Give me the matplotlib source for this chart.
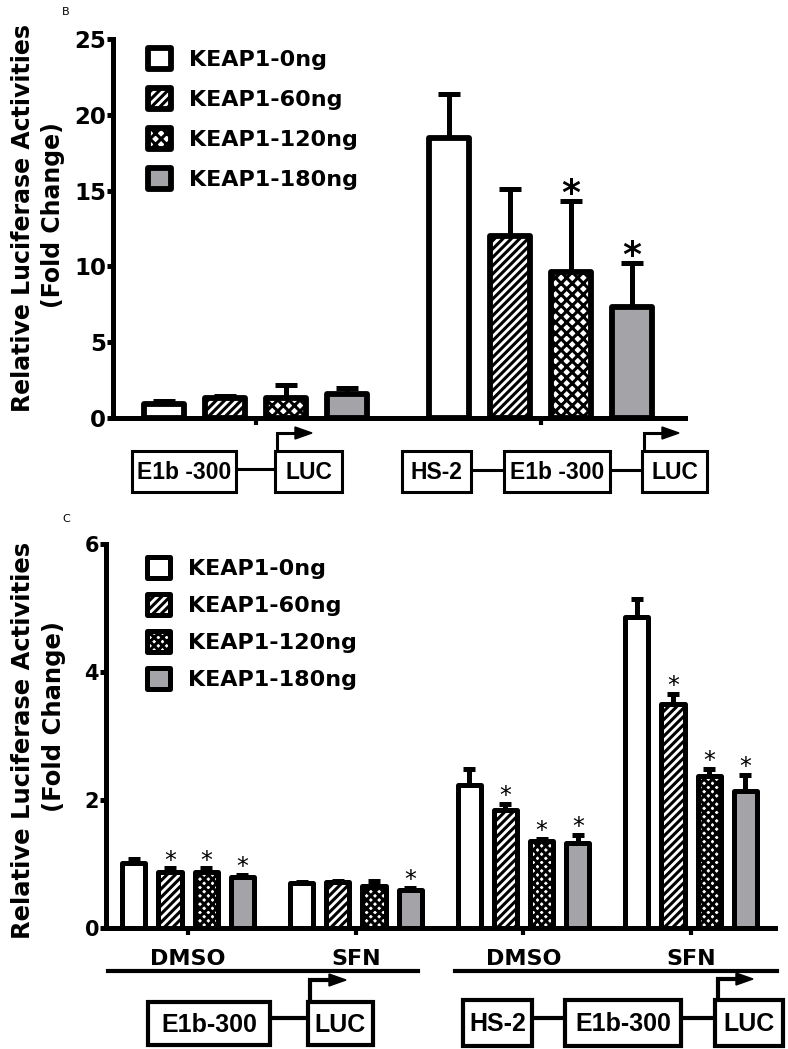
import matplotlib.pyplot as plt
import numpy as np
from matplotlib.patches import Rectangle, Polygon

plt.rcParams["font.family"] = "DejaVu Sans"
plt.rcParams["font.weight"] = "bold"
plt.rcParams["hatch.linewidth"] = 2.2

W, H = 788, 1049

keap1_labels = ["KEAP1-0ng", "KEAP1-60ng", "KEAP1-120ng", "KEAP1-180ng"]
bar_colors = ["white", "white", "white", "#a4a4a8"]

# panel B: E1b-300 reporter vs HS-2/E1b-300 reporter
b_0ng = [0.9, 18.5]
b_60ng = [1.3, 12.0]
b_120ng = [1.3, 9.6]
b_180ng = [1.6, 7.3]
b_err_0ng = [0.25, 2.9]
b_err_60ng = [0.15, 3.1]
b_err_120ng = [0.9, 4.7]
b_err_180ng = [0.35, 2.9]
b_star_120ng = [False, True]
b_star_180ng = [False, True]

# panel C: DMSO / SFN treatment, two reporters
c_groups = ["DMSO", "SFN", "DMSO", "SFN"]
c_0ng = [1.02, 0.70, 2.23, 4.86]
c_60ng = [0.87, 0.72, 1.84, 3.50]
c_120ng = [0.88, 0.66, 1.36, 2.37]
c_180ng = [0.80, 0.60, 1.33, 2.14]
c_err_0ng = [0.06, 0.02, 0.25, 0.28]
c_err_60ng = [0.06, 0.02, 0.10, 0.16]
c_err_120ng = [0.05, 0.07, 0.03, 0.12]
c_err_180ng = [0.03, 0.03, 0.13, 0.25]
c_star_60ng = [True, False, True, True]
c_star_120ng = [True, False, True, True]
c_star_180ng = [True, True, True, True]


def hatch_width(patch, lw):
    # hatch.linewidth is read when the patch is drawn
    orig = patch.draw

    def draw(renderer):
        with plt.rc_context({"hatch.linewidth": lw}):
            orig(renderer)
    patch.draw = draw


def draw_bars(ax, means, errs, stars, hatches, hatch_lws, pitch, width,
              edge_lw, err_lw, cap, star_fs, star_weight, star_gap):
    groups = np.arange(len(means[0]))
    for i in range(4):
        xs = groups + (i - 1.5) * pitch
        bars = ax.bar(xs, means[i], width, color=bar_colors[i],
                      edgecolor="black", linewidth=edge_lw,
                      hatch=hatches[i] or None,
                      label=keap1_labels[i], zorder=3)
        for p in bars:
            p.set_joinstyle("round")
            hatch_width(p, hatch_lws[i])
        ax.errorbar(xs, means[i], yerr=[np.zeros(len(xs)), errs[i]],
                    fmt="none", ecolor="black", elinewidth=err_lw,
                    capsize=cap, capthick=err_lw, zorder=2)
        tops = np.add(means[i], errs[i])
        for x, top, flag in zip(xs, tops, stars[i]):
            if flag:
                ax.annotate("*", (x, top), xytext=(0, star_gap),
                            textcoords="offset points", ha="center",
                            va="baseline", fontsize=star_fs,
                            fontweight=star_weight)


def style_axis(ax, lw):
    for s in ["top", "right"]:
        ax.spines[s].set_visible(False)
    for s in ["left", "bottom"]:
        ax.spines[s].set_linewidth(lw)
        ax.spines[s].set_capstyle("projecting")
    ax.set_facecolor("none")


def add_legend(ax, anchor, spacing, hatch_lws):
    leg = ax.legend(loc="upper left", bbox_to_anchor=anchor,
                    bbox_transform=fig.transFigure, frameon=False,
                    prop={"size": 16, "weight": "bold"}, handlelength=1.05,
                    handleheight=1.05, handletextpad=0.8,
                    labelspacing=spacing, borderpad=0, borderaxespad=0)
    for h, lw in zip(leg.legend_handles, hatch_lws):
        h.set_joinstyle("round")
        hatch_width(h, lw)


fig = plt.figure(figsize=(W / 100, H / 100), dpi=100)

# ---- panel B
axB = fig.add_axes([113 / W, 1 - 418 / H, (685 - 113) / W, (418 - 39) / H])
b_hatch_lws = [1, 2.2, 3.6, 1]
draw_bars(axB, [b_0ng, b_60ng, b_120ng, b_180ng],
          [b_err_0ng, b_err_60ng, b_err_120ng, b_err_180ng],
          [[False, False], [False, False], b_star_120ng, b_star_180ng],
          ["", "////", "xxx", ""], b_hatch_lws,
          pitch=0.214, width=0.138, edge_lw=4.2, err_lw=3.6, cap=8,
          star_fs=26, star_weight="bold", star_gap=-2)
style_axis(axB, 3.6)
axB.set_ylim(0, 25)
axB.set_xlim(-0.5, 1.507)
axB.set_yticks([0, 5, 10, 15, 20, 25])
axB.set_xticks([0, 1])
axB.set_xticklabels([])
axB.tick_params(axis="y", length=4, width=3.6, pad=1, labelsize=16.5)
axB.tick_params(axis="x", length=5, width=3, pad=2)
add_legend(axB, (148 / W, 1 - 48 / H), 0.82, b_hatch_lws)

# ---- panel C
axC = fig.add_axes([106 / W, 1 - 928 / H, (775 - 106) / W, (928 - 544) / H])
c_hatch_lws = [1, 2.0, 2.2, 1]
draw_bars(axC, [c_0ng, c_60ng, c_120ng, c_180ng],
          [c_err_0ng, c_err_60ng, c_err_120ng, c_err_180ng],
          [[False] * 4, c_star_60ng, c_star_120ng, c_star_180ng],
          ["", "////", "xxxx", ""], c_hatch_lws,
          pitch=0.216, width=0.138, edge_lw=3.6, err_lw=3.6, cap=4.5,
          star_fs=17, star_weight="normal", star_gap=0.5)
style_axis(axC, 3.6)
axC.set_ylim(0, 6)
axC.set_xlim(-0.49, 3.5)
axC.set_yticks([0, 2, 4, 6])
axC.set_xticks(range(len(c_groups)))
axC.set_xticklabels(c_groups)
axC.tick_params(axis="y", length=4, width=3.6, pad=1, labelsize=15)
axC.tick_params(axis="x", length=5, width=3, pad=10, labelsize=16)
add_legend(axC, (147 / W, 1 - 557 / H), 0.68, [1, 2.0, 3.6, 1])

# ---- labels
fig.text(23 / W, 1 - 218 / H, "Relative Luciferase Activities", rotation=90,
         ha="center", va="center", fontsize=17)
fig.text(53 / W, 1 - 215 / H, "(Fold Change)", rotation=90,
         ha="center", va="center", fontsize=17)
fig.text(23 / W, 1 - 740 / H, "Relative Luciferase Activities", rotation=90,
         ha="center", va="center", fontsize=17.5)
fig.text(54 / W, 1 - 717 / H, "(Fold Change)", rotation=90,
         ha="center", va="center", fontsize=17.5)
fig.text(62 / W, 1 - 12 / H, "B", fontsize=8, fontweight="normal",
         va="center")
fig.text(62 / W, 1 - 519 / H, "C", fontsize=8, fontweight="normal",
         va="center")

# ---- promoter diagrams (pixel overlay)
ov = fig.add_axes([0, 0, 1, 1], zorder=-1)
ov.set_xlim(0, W)
ov.set_ylim(H, 0)
ov.axis("off")


def box(x0, x1, y0, y1, text, fs, lw):
    ov.add_patch(Rectangle((x0, y0), x1 - x0, y1 - y0, fc="white",
                           ec="black", lw=lw, zorder=3))
    ov.text((x0 + x1) / 2, (y0 + y1) / 2 + 1, text, ha="center",
            va="center", fontsize=fs, family="Liberation Sans",
            weight="bold", zorder=4)


def link(x0, x1, y, lw):
    ov.plot([x0, x1], [y, y], color="black", lw=lw, zorder=2)


def tss(x, ybox, ytop, tip, lw):
    ov.plot([x, x, tip - 12], [ybox, ytop, ytop], color="black", lw=lw,
            solid_joinstyle="miter", zorder=2)
    ov.add_patch(Polygon([(tip, ytop), (tip - 17, ytop - 6),
                          (tip - 17, ytop + 6)], closed=True,
                         color="black", zorder=2))


# panel B
box(132, 236, 451, 492, "E1b -300", 16.5, 2.2)
box(275, 342, 451, 492, "LUC", 16.5, 2.2)
link(236, 275, 469, 2.2)
tss(277, 451, 433, 312, 2.2)
box(402, 471, 451, 492, "HS-2", 16.5, 2.2)
box(504, 610, 451, 492, "E1b -300", 16.5, 2.2)
box(642, 707, 451, 492, "LUC", 16.5, 2.2)
link(471, 504, 470, 2.2)
link(610, 642, 470, 2.2)
tss(644, 451, 433, 679, 2.2)

# panel C
link(108, 418, 971, 3)
link(455, 777, 971, 3)
box(148, 270, 1002, 1045, "E1b-300", 18, 3)
box(308, 373, 1002, 1045, "LUC", 18, 3)
link(270, 308, 1018, 3)
tss(310, 1002, 980, 346, 3)
box(463, 532, 1000, 1046, "HS-2", 18, 3)
box(565, 681, 1000, 1046, "E1b-300", 18, 3)
box(715, 783, 1000, 1046, "LUC", 18, 3)
link(532, 565, 1018, 3)
link(681, 715, 1018, 3)
tss(718, 1000, 979, 753, 3)

fig.savefig("out.png", dpi=100)
